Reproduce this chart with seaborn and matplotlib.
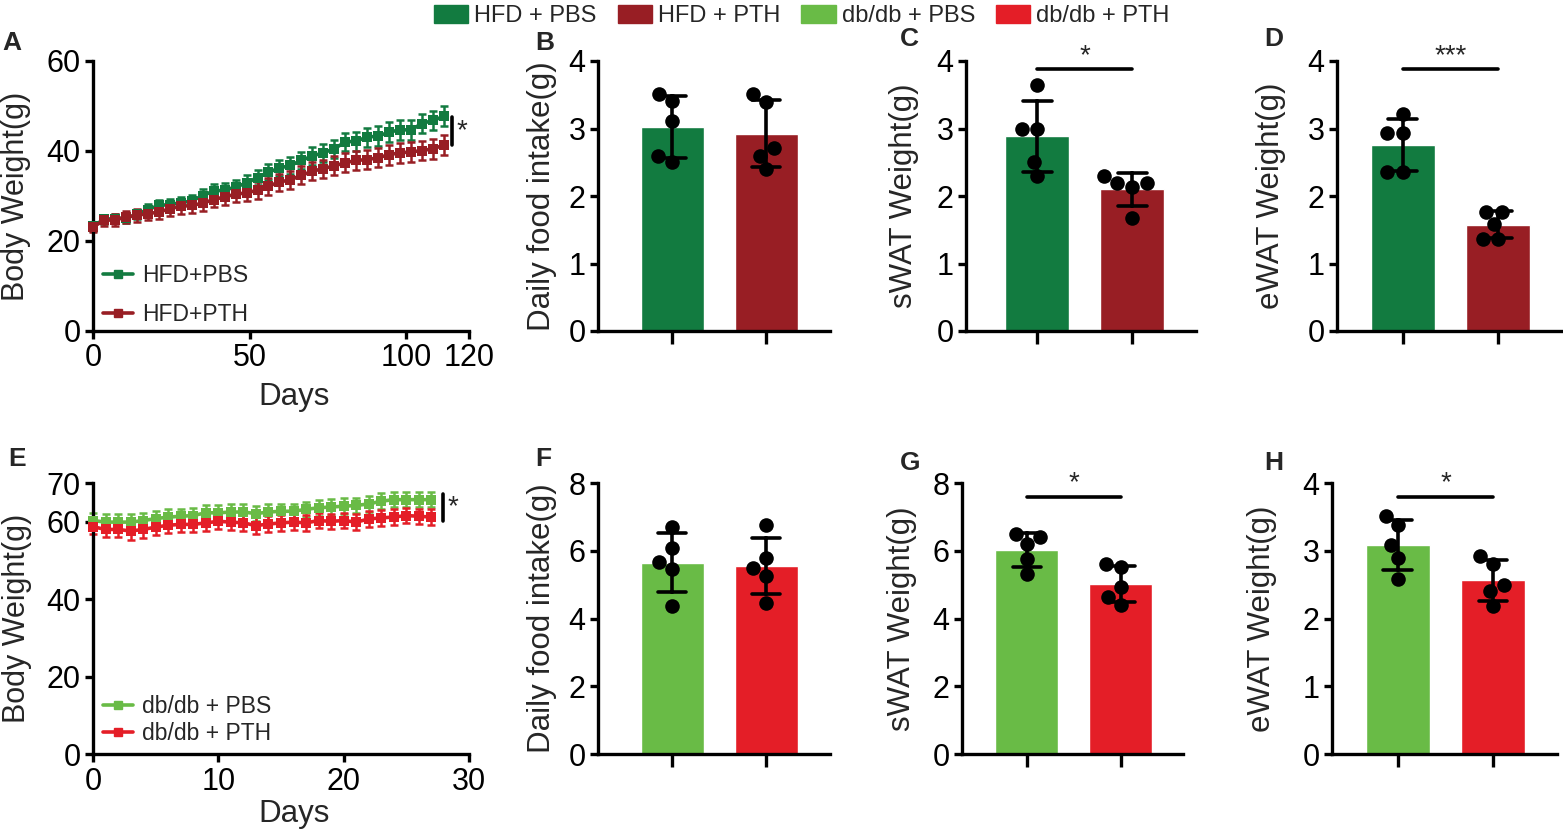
import numpy as np
import pandas as pd
import matplotlib
matplotlib.use('Agg')
import matplotlib.pyplot as plt
from matplotlib.patches import Patch
from matplotlib.lines import Line2D
import seaborn as sns

sns.set_theme(style='ticks')
plt.rcParams['font.family'] = ['Liberation Sans', 'DejaVu Sans']

# group colours
dark_green = '#127b40'
dark_red = '#981e24'
light_green = '#69bb46'
bright_red = '#e41e27'

# A: body weight of HFD mice (mean and SEM)
hfd_days = [0, 3.5, 7, 10.5, 14, 17.5, 21, 24.5, 28, 31.5, 35, 38.5, 42, 45.5, 49,
            52.5, 56, 59.5, 63, 66.5, 70, 73.5, 77, 80.5, 84, 87.5, 91, 94.5, 98,
            101.5, 105, 108.5, 112]
hfd_pbs = [23.3, 24.8, 25.0, 25.1, 25.9, 27.0, 27.9, 28.1, 28.5, 28.9, 30.1, 31.1, 31.3,
           32.0, 32.9, 34.1, 35.3, 36.2, 36.8, 37.9, 38.9, 39.6, 40.5, 42.0, 42.2, 43.1,
           43.3, 44.2, 44.7, 44.7, 46.1, 46.8, 47.7]
hfd_pth = [23.1, 24.6, 24.7, 25.3, 25.7, 26.1, 26.4, 27.2, 27.7, 27.9, 28.4, 29.2, 29.8,
           30.4, 30.7, 31.3, 32.2, 33.1, 33.6, 34.6, 35.5, 36.1, 36.7, 37.4, 37.9, 38.1,
           38.5, 39.2, 39.6, 39.8, 40.1, 40.5, 41.3]
hfd_pbs_sem = [1.0, 1.0, 1.0, 1.1, 1.1, 1.2, 1.2, 1.3, 1.3, 1.4, 1.5, 1.5, 1.6, 1.6, 1.7,
               1.7, 1.8, 1.8, 1.9, 1.9, 2.0, 2.0, 2.0, 2.1, 2.1, 2.1, 2.2, 2.2, 2.2, 2.2,
               2.2, 2.2, 2.2]
hfd_pth_sem = [1.0, 1.2, 1.3, 1.4, 1.4, 1.5, 1.5, 1.6, 1.6, 1.6, 1.7, 1.7, 1.8, 1.8, 1.8,
               1.9, 1.9, 1.9, 2.0, 2.0, 2.0, 2.0, 2.1, 2.1, 2.1, 2.1, 2.1, 2.2, 2.2, 2.2,
               2.2, 2.2, 2.2]

# E: body weight of db/db mice (mean and SEM)
db_days = [0, 1, 2, 3, 4, 5, 6, 7, 8, 9, 10, 11, 12, 13, 14, 15, 16, 17, 18, 19, 20,
           21, 22, 23, 24, 25, 26, 27]
db_pbs = [60.3, 59.9, 59.9, 59.9, 60.3, 60.8, 61.2, 61.4, 61.6, 62.3, 62.3, 62.5, 62.5,
          62.1, 62.5, 62.7, 62.7, 63.2, 63.6, 63.8, 64.0, 64.2, 64.6, 65.3, 65.7, 65.7,
          65.7, 65.7]
db_pth = [58.7, 58.0, 58.0, 57.6, 58.0, 58.6, 59.1, 59.3, 59.3, 59.7, 60.1, 59.9, 59.7,
          59.0, 59.4, 59.7, 59.9, 59.7, 60.3, 60.1, 60.3, 59.9, 60.7, 61.0, 61.2, 61.6,
          61.4, 61.2]
db_pbs_sem = [2.0, 2.0, 2.0, 2.0, 2.0, 2.0, 2.0, 2.0, 2.0, 2.0, 2.0, 2.0, 2.0, 2.0, 2.0,
              2.0, 2.0, 2.0, 2.0, 2.0, 2.0, 2.0, 2.0, 2.0, 2.0, 2.0, 2.0, 2.0]
db_pth_sem = [2.0, 2.0, 2.0, 2.2, 2.1, 2.0, 2.0, 2.0, 2.0, 2.0, 2.0, 2.0, 2.0, 2.2, 2.0,
              2.0, 2.0, 2.0, 2.0, 2.0, 2.0, 2.0, 2.0, 2.0, 2.0, 2.0, 2.0, 2.0]

# B-D, F-H: individual mice (n = 5 per group)
b_pbs = [3.51, 3.41, 3.11, 2.59, 2.50]
b_pth = [3.51, 3.40, 2.71, 2.60, 2.40]
c_pbs = [3.64, 2.99, 3.00, 2.50, 2.29]
c_pth = [2.30, 2.20, 2.19, 2.14, 1.68]
d_pbs = [3.21, 2.94, 2.94, 2.35, 2.35]
d_pth = [1.77, 1.77, 1.58, 1.37, 1.37]
f_pbs = [6.70, 6.07, 5.66, 5.45, 4.36]
f_pth = [6.76, 5.78, 5.48, 5.25, 4.47]
g_pbs = [6.49, 6.40, 6.19, 5.75, 5.30]
g_pth = [5.60, 5.51, 4.92, 4.62, 4.41]
h_pbs = [3.51, 3.38, 3.08, 2.89, 2.59]
h_pth = [2.92, 2.81, 2.49, 2.40, 2.19]

TICK_FS = 22
LABEL_FS = 22.5
LW = 2.4


def style_axes(ax):
    sns.despine(ax=ax)
    for s in ['left', 'bottom']:
        ax.spines[s].set_linewidth(LW)
        ax.spines[s].set_color('black')
    ax.tick_params(axis='both', length=6, width=LW, labelsize=TICK_FS, color='black',
                   labelcolor='black', pad=3)


def line_panel(ax, days, pbs, pth, pbs_sem, pth_sem, colors, labels, xticks, xmax,
               yticks, ymax, sig_x, sig_y, legend_spacing, legend_y, days_y, label_x):
    for vals, sem, col, lab in [(pbs, pbs_sem, colors[0], labels[0]),
                                (pth, pth_sem, colors[1], labels[1])]:
        ax.errorbar(days, vals, yerr=sem, fmt='none', ecolor=col, elinewidth=1.8,
                    capsize=3, capthick=1.8, clip_on=False, zorder=2)
        sns.lineplot(x=days, y=vals, ax=ax, color=col, marker='s', markersize=7,
                     markeredgewidth=0, linewidth=2.6, label=lab, clip_on=False,
                     zorder=3)
    ax.set_xlim(0, xmax)
    ax.set_ylim(0, ymax)
    ax.set_xticks(xticks)
    ax.set_yticks(yticks)
    style_axes(ax)
    ax.set_xlabel('Days', fontsize=LABEL_FS)
    ax.set_ylabel('Body Weight(g)', fontsize=22)
    ax.yaxis.set_label_coords(label_x, 0.5)
    ax.xaxis.set_label_coords(0.535, days_y)
    ax.plot([sig_x, sig_x], sig_y, color='black', lw=2.6, clip_on=False)
    ax.text(sig_x + xmax * 0.012, np.mean(sig_y), '*', fontsize=20, ha='left',
            va='center')
    handles = [Line2D([], [], color=c, lw=2.6, marker='s', markersize=6) for c in colors]
    ax.legend(handles, labels, loc='lower left', bbox_to_anchor=(-0.015, legend_y),
              frameon=False, fontsize=16.5, handlelength=1.3, handletextpad=0.4,
              labelspacing=legend_spacing, borderaxespad=0.3)


def bar_panel(ax, pbs, pth, colors, ylabel, yticks, ymax, xlim, sig=None, sig_y=None,
              label_x=-0.2):
    df = pd.DataFrame({'group': ['PBS'] * len(pbs) + ['PTH'] * len(pth),
                       'value': pbs + pth})
    sns.barplot(data=df, x='group', y='value', hue='group', palette=colors,
                order=['PBS', 'PTH'], errorbar='sd', capsize=0.3, width=0.67,
                err_kws={'color': 'black', 'linewidth': 2.6}, legend=False, ax=ax,
                saturation=1)
    sns.swarmplot(data=df, x='group', y='value', order=['PBS', 'PTH'], color='black',
                  size=10.5, ax=ax, zorder=4)
    ax.set_xlim(*xlim)
    ax.set_ylim(0, ymax)
    ax.set_yticks(yticks)
    ax.set_xticks([0, 1])
    ax.set_xticklabels(['', ''])
    ax.set_xlabel('')
    style_axes(ax)
    ax.tick_params(axis='x', length=9)
    ax.set_ylabel(ylabel, fontsize=LABEL_FS)
    ax.yaxis.set_label_coords(label_x, 0.5)
    if sig:
        ax.plot([0, 1], [sig_y, sig_y], color='black', lw=2.6, clip_on=False)
        ax.text(0.5, sig_y, sig, fontsize=20, ha='center', va='bottom')


fig = plt.figure(figsize=(15.63, 8.33), dpi=100)
W, H = 1563, 833


def box(left, right, top, bottom):
    return [left / W, 1 - bottom / H, (right - left) / W, (bottom - top) / H]


ax_a = fig.add_axes(box(93, 469, 61, 331))
ax_b = fig.add_axes(box(598, 830, 61, 331))
ax_c = fig.add_axes(box(966, 1196, 61, 331))
ax_d = fig.add_axes(box(1337, 1561, 61, 331))
ax_e = fig.add_axes(box(93, 469, 483, 754))
ax_f = fig.add_axes(box(598, 830, 483, 754))
ax_g = fig.add_axes(box(962, 1183, 483, 754))
ax_h = fig.add_axes(box(1332, 1557, 483, 754))

line_panel(ax_a, hfd_days, hfd_pbs, hfd_pth, hfd_pbs_sem, hfd_pth_sem,
           [dark_green, dark_red], ['HFD+PBS', 'HFD+PTH'], [0, 50, 100, 120], 120,
           [0, 20, 40, 60], 60, 114.6, [41.3, 47.6], 0.7, -0.04, -0.19, -0.165)
line_panel(ax_e, db_days, db_pbs, db_pth, db_pbs_sem, db_pth_sem,
           [light_green, bright_red], ['db/db + PBS', 'db/db + PTH'], [0, 10, 20, 30], 30,
           [0, 20, 40, 60, 70], 70, 27.9, [60.2, 67.2], 0.15, -0.025, -0.165, -0.163)

bar_panel(ax_b, b_pbs, b_pth, [dark_green, dark_red], 'Daily food intake(g)',
          [0, 1, 2, 3, 4], 4, (-0.79, 1.68), label_x=-0.177)
bar_panel(ax_c, c_pbs, c_pth, [dark_green, dark_red], 'sWAT Weight(g)',
          [0, 1, 2, 3, 4], 4, (-0.75, 1.67), '*', 3.88, label_x=-0.204)
bar_panel(ax_d, d_pbs, d_pth, [dark_green, dark_red], 'eWAT Weight(g)',
          [0, 1, 2, 3, 4], 4, (-0.69, 1.66), '***', 3.88, label_x=-0.228)
bar_panel(ax_f, f_pbs, f_pth, [light_green, bright_red], 'Daily food intake(g)',
          [0, 2, 4, 6, 8], 8, (-0.79, 1.68), label_x=-0.177)
bar_panel(ax_g, g_pbs, g_pth, [light_green, bright_red], 'sWAT Weight(g)',
          [0, 2, 4, 6, 8], 8, (-0.69, 1.66), '*', 7.6, label_x=-0.204)
bar_panel(ax_h, h_pbs, h_pth, [light_green, bright_red], 'eWAT Weight(g)',
          [0, 1, 2, 3, 4], 4, (-0.69, 1.67), '*', 3.8, label_x=-0.244)

# panel letters
for letter, x, y in [('A', 2, 50), ('B', 535, 50), ('C', 900, 46), ('D', 1264, 46),
                     ('E', 8, 466), ('F', 535, 466), ('G', 900, 470), ('H', 1264, 470)]:
    fig.text(x / W, 1 - y / H, letter, fontsize=19, fontweight='bold', ha='left',
             va='baseline')

# shared legend on top
legend_handles = [Patch(color=dark_green), Patch(color=dark_red),
                  Patch(color=light_green), Patch(color=bright_red)]
fig.legend(legend_handles, ['HFD + PBS', 'HFD + PTH', 'db/db + PBS', 'db/db + PTH'],
           loc='upper center', bbox_to_anchor=(0.513, 1.02), ncol=4, frameon=False,
           fontsize=17, handlelength=1.45, handleheight=0.8, handletextpad=0.25,
           columnspacing=0.9)

fig.savefig('out.png', dpi=100)
